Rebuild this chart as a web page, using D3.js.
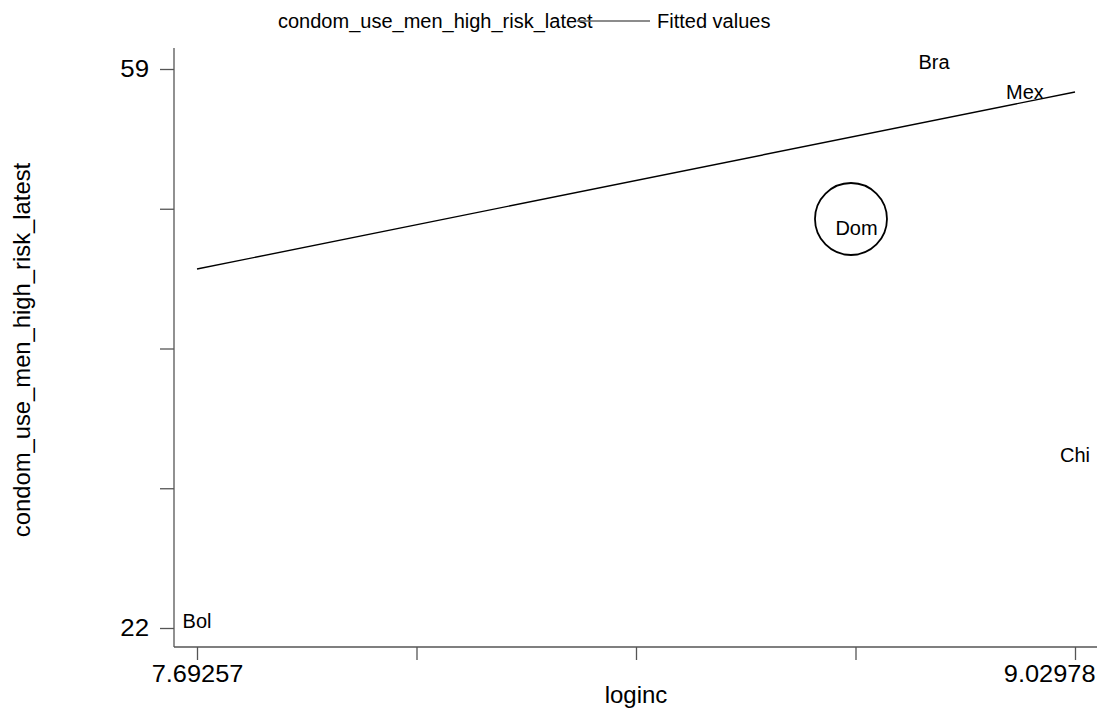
<!DOCTYPE html>
<html>
<head>
<meta charset="utf-8">
<script src="https://cdn.jsdelivr.net/npm/d3@7"></script>
<style>
  body { margin: 0; background: #fff; }
  svg { display: block; font-family: "Liberation Sans", Arial, sans-serif; }
</style>
</head>
<body>
<svg id="chart" width="1104" height="713"></svg>
<script>
// ---- data ----
const countries = ["Bol", "Bra", "Chi", "Dom", "Mex"];
const loginc = [7.69257, 8.815, 9.02978, 8.697, 8.9536];
const condomUse = [22, 59, 33, 48, 57];
const fittedX = [7.69257, 9.02978];
const fittedY = [45.76, 57.48];
const circleX = [8.6886];
const circleY = [49.07];
const xTicks = [7.69257, 8.0268725, 8.361175, 8.6954775, 9.02978];
const xTickLabels = ["7.69257", "", "", "", "9.02978"];
const yTicks = [22, 31.25, 40.5, 49.75, 59];
const yTickLabels = ["22", "", "", "", "59"];

const svg = d3.select("#chart");
const x = d3.scaleLinear().domain([7.69257, 9.02978]).range([197, 1075]);
const y = d3.scaleLinear().domain([22, 59]).range([628, 69]);

const axisColor = "#555";

// axes lines (plot region)
svg.append("line").attr("x1", 174).attr("x2", 174).attr("y1", 48).attr("y2", 647)
  .attr("stroke", axisColor).attr("stroke-width", 1.3);
svg.append("line").attr("x1", 174).attr("x2", 1097).attr("y1", 647).attr("y2", 647)
  .attr("stroke", axisColor).attr("stroke-width", 1.3);

// widen glyphs horizontally (reference tick labels are wider than Arial)
function widen(sel, factor) {
  sel.each(function () {
    const t = d3.select(this);
    if (!t.text()) return;
    const w = this.getComputedTextLength();
    t.attr("textLength", w * factor).attr("lengthAdjust", "spacingAndGlyphs");
  });
}

// y axis
const yAxis = d3.axisLeft(y).tickValues(yTicks)
  .tickFormat((d, i) => yTickLabels[i]).tickSize(14).tickPadding(11);
const gy = svg.append("g").attr("transform", "translate(174,0)").call(yAxis);
gy.select(".domain").remove();
gy.selectAll(".tick line").attr("stroke", axisColor).attr("stroke-width", 1.3);
gy.selectAll(".tick text").attr("font-size", 23.5).attr("fill", "#000")
  .attr("font-family", "Liberation Sans, Arial, sans-serif");
widen(gy.selectAll(".tick text"), 1.1);

// x axis
const xAxis = d3.axisBottom(x).tickValues(xTicks)
  .tickFormat((d, i) => xTickLabels[i]).tickSize(13).tickPadding(5);
const gx = svg.append("g").attr("transform", "translate(0,647)").call(xAxis);
gx.select(".domain").remove();
gx.selectAll(".tick line").attr("stroke", axisColor).attr("stroke-width", 1.3);
gx.selectAll(".tick text").attr("font-size", 23.5).attr("fill", "#000")
  .attr("font-family", "Liberation Sans, Arial, sans-serif");
widen(gx.selectAll(".tick text"), 1.08);
gx.selectAll(".tick text").filter((d, i) => i === xTicks.length - 1)
  .attr("text-anchor", "end").attr("x", 20);

// axis titles
svg.append("text").attr("x", 636).attr("y", 703).attr("text-anchor", "middle")
  .attr("font-size", 24).text("loginc");
svg.append("text").attr("transform", "translate(30,350) rotate(-90)")
  .attr("text-anchor", "middle").attr("font-size", 23.8)
  .text("condom_use_men_high_risk_latest");

// fitted line
svg.append("path")
  .attr("d", d3.line().x(d => x(d[0])).y(d => y(d[1]))(fittedX.map((v, i) => [v, fittedY[i]])))
  .attr("fill", "none").attr("stroke", "#000").attr("stroke-width", 1.4);

// circle marker
svg.selectAll("circle.mk").data(circleX).enter().append("circle")
  .attr("cx", d => x(d)).attr("cy", (d, i) => y(circleY[i])).attr("r", 36)
  .attr("fill", "none").attr("stroke", "#000").attr("stroke-width", 1.8);

// marker labels
svg.selectAll("text.lab").data(countries).enter().append("text")
  .attr("class", "lab")
  .attr("x", (d, i) => x(loginc[i])).attr("y", (d, i) => y(condomUse[i]))
  .attr("text-anchor", "middle").attr("font-size", 20).text(d => d);

// legend
svg.append("text").attr("x", 278).attr("y", 28).attr("font-size", 20)
  .text("condom_use_men_high_risk_latest");
svg.append("line").attr("x1", 577).attr("x2", 650).attr("y1", 21).attr("y2", 21)
  .attr("stroke", "#666").attr("stroke-width", 1.3);
svg.append("text").attr("x", 657).attr("y", 28).attr("font-size", 20)
  .text("Fitted values");
</script>
</body>
</html>
